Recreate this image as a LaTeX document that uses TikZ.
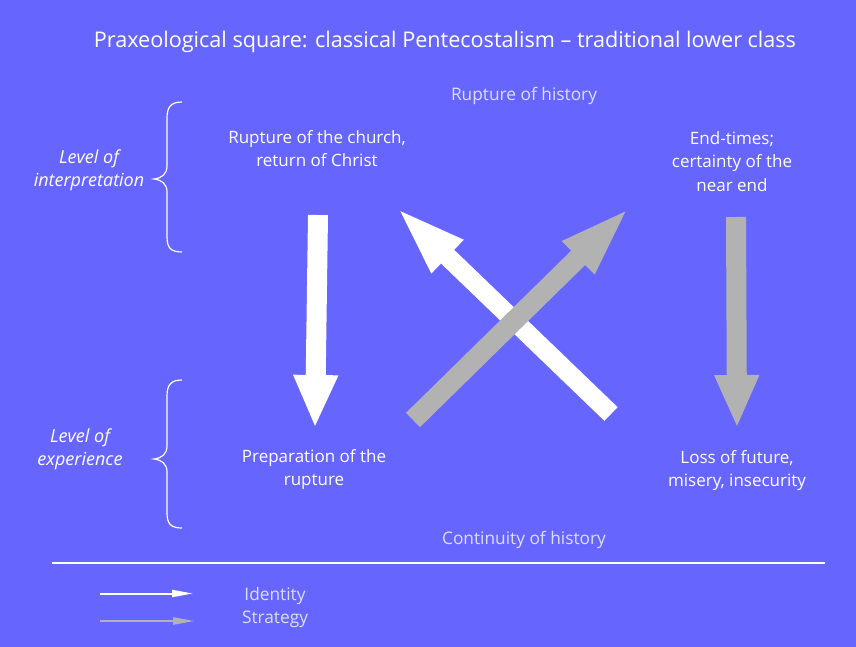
\documentclass[tikz,border=0pt]{standalone}
\usepackage{fontspec}
\setmainfont{Open Sans}
\usetikzlibrary{arrows.meta}
\definecolor{bg}{HTML}{6666FF}
\definecolor{arrgray}{HTML}{B2B2B2}
\definecolor{lav}{HTML}{DDDDFF}
\begin{document}
\begin{tikzpicture}[x=1pt,y=-1pt,
  lbl/.style={text=white,font=\fontsize{17}{23.5}\selectfont,align=center,inner sep=0pt},
  sublbl/.style={text=lav,font=\fontsize{17.3}{23}\selectfont,align=center,inner sep=0pt},
  lvl/.style={text=white,font=\fontsize{18}{23}\selectfont\itshape,align=center,inner sep=0pt},
  ttl/.style={text=white,font=\fontsize{21.6}{25}\selectfont,inner sep=0pt},
  brace/.style={draw=white,line width=1.2pt},
  bigw/.style={draw=white,line width=20pt,-{Triangle[width=41pt,length=53pt]}},
  bigg/.style={draw=arrgray,line width=20pt,-{Triangle[width=41pt,length=53pt]}},
  diagw/.style={draw=white,line width=19pt,-{Triangle[width=40pt,length=73pt]}},
  diagg/.style={draw=arrgray,line width=20pt,-{Triangle[width=40pt,length=74pt]}},
  legw/.style={draw=white,line width=2pt,-{Triangle[width=7pt,length=21pt]}},
  legg/.style={draw=arrgray,line width=2.5pt,-{Triangle[width=7pt,length=22pt]}}
]
\fill[bg] (0,0) rectangle (856,647);
\useasboundingbox (0,0) rectangle (856,647);

% title and history labels
\node[ttl] (title) at (445,42) {Praxeological square: classical Pentecostalism – traditional lower class};
\node[sublbl] (rupt) at (524,96) {Rupture of history};
\node[sublbl] (cont) at (524,540) {Continuity of history};

% corner labels
\node[lbl] (tl) at (317,148.5) {Rupture of the church,\\return of Christ};
\node[lbl] (tr) at (732,161.5) {End-times;\\certainty of the\\near end};
\node[lbl] (bl) at (314,469.5) {Preparation of the\\rupture};
\node[lbl] (br) at (737,470.5) {Loss of future,\\misery, insecurity};

% level labels
\node[lvl] (li) at (89,170.5) {Level of\\interpretation};
\node[lvl] (le) at (80,449.5) {Level of\\experience};

% braces
\draw[brace] (182,102) .. controls (171,102) and (167,107) .. (167,118)
  -- (167,166) .. controls (167,174) and (162,178) .. (154,179)
  .. controls (162,180) and (167,184) .. (167,192)
  -- (167,237) .. controls (167,248) and (171,252) .. (182,252);
\draw[brace] (182,380) .. controls (171,380) and (167,385) .. (167,396)
  -- (167,446) .. controls (167,454) and (162,458) .. (154,459)
  .. controls (162,460) and (167,464) .. (167,472)
  -- (167,513) .. controls (167,524) and (171,528) .. (182,528);

% big arrows
\coordinate (a1s) at (318,215);
\coordinate (a1e) at (315,428);
\coordinate (a4s) at (736,217);
\coordinate (a4e) at (737,428);
\coordinate (a2s) at (611,414);
\coordinate (a2e) at (395,206);
\coordinate (a3s) at (413,420);
\coordinate (a3e) at (631,206);
\draw[bigw] (a1s) -- (a1e);
\draw[bigg] (a4s) -- (a4e);
\draw[diagw] (a2s) -- (a2e);
\draw[diagg] (a3s) -- (a3e);

% separator
\draw[white,line width=1.3pt] (52,563) -- (825,563);

% legend
\coordinate (lw1) at (100,593.5);
\coordinate (lw2) at (193,593.5);
\coordinate (lg1) at (100,621);
\coordinate (lg2) at (195,621);
\draw[legw] (lw1) -- (lw2);
\draw[legg] (lg1) -- (lg2);
\node[sublbl] (ident) at (275,596) {Identity};
\node[sublbl] (strat) at (275,619) {Strategy};
\end{tikzpicture}
\end{document}
